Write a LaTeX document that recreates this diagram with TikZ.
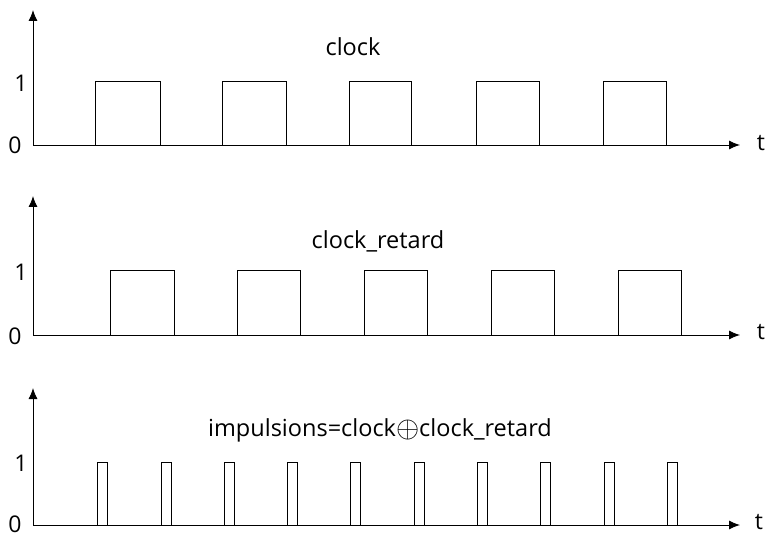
\documentclass[tikz,border=0pt]{standalone}
\usepackage{fontspec}
\setmainfont{Open Sans}
\usetikzlibrary{arrows.meta}
\begin{document}
\begin{tikzpicture}[x=1pt,y=-1pt,
  axis/.style={line width=0.9pt,-{Latex[length=11pt,width=9pt]}},
  pulse/.style={line width=0.8pt},
  lbl/.style={font=\fontsize{23}{26}\selectfont,inner sep=0pt},
  ttl/.style={font=\fontsize{23.5}{26}\selectfont,inner sep=0pt}]
\useasboundingbox (0,0) rectangle (767,537);
% ---------- top: clock
\coordinate (o1) at (33,145);
\coordinate (y1) at (33,10);
\coordinate (x1) at (740,145);
\draw[axis] (o1) -- (y1);
\draw[axis] (o1) -- (x1);
\node[lbl] (one1) at (21,83) {1};
\node[lbl] (zero1) at (15,145) {0};
\node[lbl] (t1) at (761,143) {t};
\node[ttl] (c1) at (353,47) {clock};
\foreach \a/\b in {95/160,222/286,349/411,476/539,603/666}
  \draw[pulse] (\a,145) -- (\a,81) -- (\b,81) -- (\b,145);
% ---------- middle: clock_retard
\coordinate (o2) at (33,335);
\coordinate (y2) at (33,196);
\coordinate (x2) at (740,335);
\draw[axis] (o2) -- (y2);
\draw[axis] (o2) -- (x2);
\node[lbl] (one2) at (21,272) {1};
\node[lbl] (zero2) at (15,336) {0};
\node[lbl] (t2) at (761,332) {t};
\node[ttl] (c2) at (378,241) {clock\_retard};
\foreach \a/\b in {110/174,237/300,364/427,491/554,618/681}
  \draw[pulse] (\a,335) -- (\a,270) -- (\b,270) -- (\b,335);
% ---------- bottom: impulsions
\coordinate (o3) at (33,525);
\coordinate (y3) at (33,388);
\coordinate (x3) at (740,525);
\draw[axis] (o3) -- (y3);
\draw[axis] (o3) -- (x3);
\node[lbl] (one3) at (21,463) {1};
\node[lbl] (zero3) at (15,524) {0};
\node[lbl] (t3) at (759,522) {t};
\node[ttl] (c3) at (380,430) {impulsions=clock\raisebox{-1pt}{\scalebox{1.2}{$\oplus$}}clock\_retard};
\foreach \a in {97,161,224,287,350,414,477,540,604,667}
  \draw[pulse] (\a,525) -- (\a,462) -- ({\a+10},462) -- ({\a+10},525);
\end{tikzpicture}
\end{document}
